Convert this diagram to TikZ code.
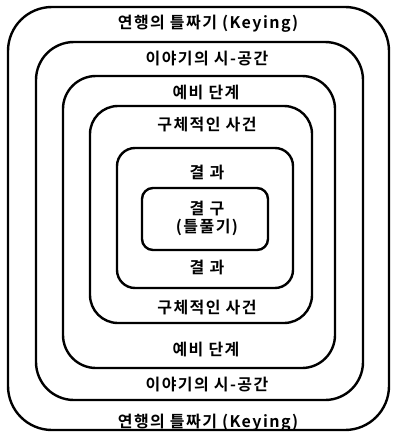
\documentclass[tikz,border=0pt]{standalone}
\usepackage{fontspec}
\newfontfamily\kr[LetterSpace=9]{Noto Sans CJK KR Bold}
\begin{document}
\begin{tikzpicture}[x=1pt,y=-1pt,
  frame/.style={line width=2.4pt},
  lbl/.style={font=\kr\fontsize{16}{19}\selectfont, inner sep=0pt, align=center}]
\useasboundingbox (0,0) rectangle (392,433);
% frames
\draw[frame, rounded corners=44pt] (8,7) rectangle (389,430);
\draw[frame, rounded corners=38pt] (36,42) rectangle (363,400);
\draw[frame, rounded corners=33pt] (63,76) rectangle (335,368);
\draw[frame, rounded corners=28pt] (90,106) rectangle (312,323);
\draw[frame, rounded corners=18pt] (117,148) rectangle (293,288);
\draw[frame, rounded corners=11pt] (142,188) rectangle (268,250);
% labels
\node[lbl] (k1) at (208,24) {연행의 틀짜기 (Keying)};
\node[lbl] (s1) at (207,59) {이야기의 시-공간};
\node[lbl] (p1) at (206,93) {예비 단계};
\node[lbl] (e1) at (207,125) {구체적인 사건};
\node[lbl] (r1) at (207,172) {결 과};
\node[lbl] (c) at (207,218) {결 구\\[-1pt](틀풀기)};
\node[lbl] (r2) at (207,267) {결 과};
\node[lbl] (e2) at (207,308) {구체적인 사건};
\node[lbl] (p2) at (206,350) {예비 단계};
\node[lbl] (s2) at (207,385) {이야기의 시-공간};
\node[lbl] (k2) at (208,423) {연행의 틀짜기 (Keying)};
\end{tikzpicture}
\end{document}
